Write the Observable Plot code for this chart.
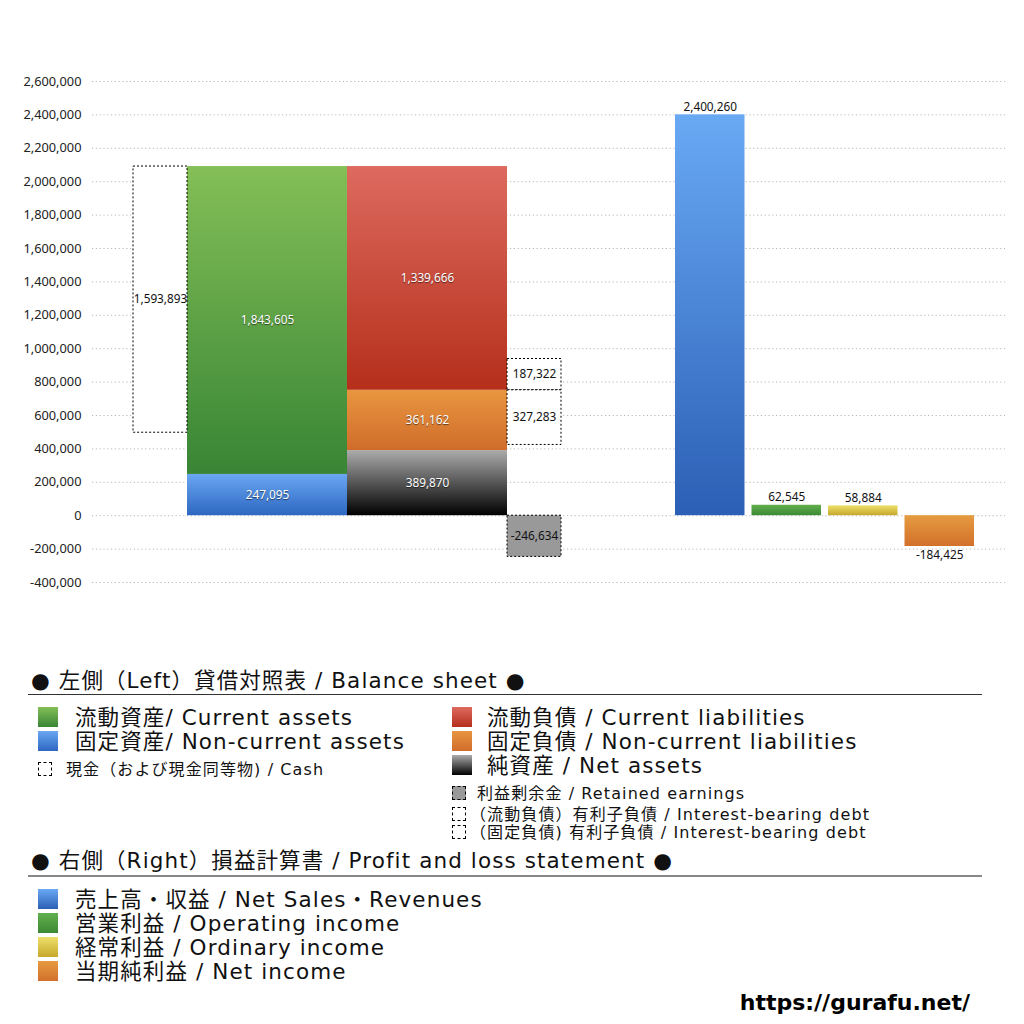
<!DOCTYPE html>
<html><head><meta charset="utf-8">
<script src="https://cdn.jsdelivr.net/npm/d3@7"></script>
<script src="https://cdn.jsdelivr.net/npm/@observablehq/plot@0.6"></script>
<style>
body{margin:0;background:#fff;font-family:"DejaVu Sans","Noto Sans CJK JP",sans-serif;}
#wrap{position:relative;width:1024px;height:1024px;overflow:hidden;background:#fff;}
#chart{position:absolute;left:0;top:0;}
.lg{position:absolute;white-space:nowrap;color:#111;line-height:1;font-family:"DejaVu Sans","Noto Sans CJK JP",sans-serif;}
.big{font-size:21.5px;letter-spacing:1.1px;}
.small{font-size:16px;letter-spacing:1.1px;}
.sw{position:absolute;}
.rule{position:absolute;left:28px;width:954px;}
g[fill="white"] text{ text-shadow:0 1px 1px rgba(0,0,0,0.55); }
</style>
</head><body>
<div id="wrap"><div id="chart"></div></div>
<script>
// ---- data ----
const assetNames = ["固定資産 / Non-current assets", "流動資産 / Current assets"];   // stacked bottom -> top
const assetValues = [247095, 1843605];
const liabNames = ["純資産 / Net assets", "固定負債 / Non-current liabilities", "流動負債 / Current liabilities"];
const liabValues = [389870, 361162, 1339666];
const cashValue = 1593893;
const debtNames = ["（流動負債）有利子負債", "（固定負債）有利子負債"];
const debtValues = [187322, 327283];
const retainedEarnings = -246634;
const plNames = ["売上高・収益 / Net Sales・Revenues", "営業利益 / Operating income", "経常利益 / Ordinary income", "当期純利益 / Net income"];
const plValues = [2400260, 62545, 58884, -184425];
const yTicks = [-400000, -200000, 0, 200000, 400000, 600000, 800000, 1000000, 1200000, 1400000, 1600000, 1800000, 2000000, 2200000, 2400000, 2600000];

// ---- styles / layout (not data) ----
const assetGrad = [["gNonCur", "#6aa7f1", "#2d67c2"], ["gCurA", "#84bf57", "#388535"]];
const liabGrad = [["gNet", "#acacac", "#000000"], ["gNonCurL", "#e8963f", "#d06c2b"], ["gCurL", "#dd6a5f", "#b52f1b"]];
const plGrad = [["gSales", "#69a9f4", "#2b5fb5"], ["gOp", "#62b04c", "#3c8935"], ["gOrd", "#eee06a", "#c6a82c"], ["gNI", "#e69b40", "#d2702b"]];
const layout = {lead: 41, side: 54, main: 160, gap: 114, pl: 69.5, plGap: 7, tail: 31};

// x positions in layout units
let cx = layout.lead;
const xCash = [cx, cx += layout.side];
const xAssets = [cx, cx += layout.main];
const xLiab = [cx, cx += layout.main];
const xDebt = [cx, cx += layout.side];
cx += layout.gap;
const xPl = plValues.map((v, i) => { const a = cx; cx += layout.pl; const r = [a, cx]; if (i < plValues.length - 1) cx += layout.plGap; return r; });
const xEnd = cx + layout.tail;

const fmt0 = d3.format(",");
const fmt = (v) => fmt0(v).replace("\u2212", "-");
const solid = [], dashed = [], whiteLabels = [], blackLabels = [];
let acc = 0;
assetValues.forEach((v, i) => {
  solid.push({x1: xAssets[0], x2: xAssets[1], y1: acc, y2: acc + v, fill: `url(#${assetGrad[i][0]})`});
  whiteLabels.push({x: (xAssets[0] + xAssets[1]) / 2, y: acc + v / 2, t: fmt(v)});
  acc += v;
});
const totalAssets = acc;
acc = 0;
const liabTops = [];
liabValues.forEach((v, i) => {
  solid.push({x1: xLiab[0], x2: xLiab[1], y1: acc, y2: acc + v, fill: `url(#${liabGrad[i][0]})`});
  whiteLabels.push({x: (xLiab[0] + xLiab[1]) / 2, y: acc + v / 2, t: fmt(v)});
  acc += v;
  liabTops.push(acc);
});
// cash box hangs from the top of total assets
dashed.push({x1: xCash[0], x2: xCash[1], y1: totalAssets - cashValue, y2: totalAssets, fill: "white"});
blackLabels.push({x: (xCash[0] + xCash[1]) / 2, y: totalAssets - cashValue / 2, t: fmt(cashValue)});
// interest-bearing debts around the boundary of current / non-current liabilities
const boundary = liabTops[1];
dashed.push({x1: xDebt[0], x2: xDebt[1], y1: boundary, y2: boundary + debtValues[0], fill: "white"});
blackLabels.push({x: (xDebt[0] + xDebt[1]) / 2, y: boundary + debtValues[0] / 2, t: fmt(debtValues[0])});
dashed.push({x1: xDebt[0], x2: xDebt[1], y1: boundary - debtValues[1], y2: boundary, fill: "white"});
blackLabels.push({x: (xDebt[0] + xDebt[1]) / 2, y: boundary - debtValues[1] / 2, t: fmt(debtValues[1])});
// retained earnings
dashed.push({x1: xDebt[0], x2: xDebt[1], y1: retainedEarnings, y2: 0, fill: "#999999"});
blackLabels.push({x: (xDebt[0] + xDebt[1]) / 2, y: retainedEarnings / 2, t: fmt(retainedEarnings)});
// P&L
const plLabels = [];
plValues.forEach((v, i) => {
  solid.push({x1: xPl[i][0], x2: xPl[i][1], y1: 0, y2: v, fill: `url(#${plGrad[i][0]})`});
  plLabels.push({x: (xPl[i][0] + xPl[i][1]) / 2, y: v, t: fmt(v), pos: v >= 0});
});

function defsMark() {
  const defs = d3.create("svg:defs");
  for (const [id, top, bottom] of [...assetGrad, ...liabGrad, ...plGrad]) {
    const g = defs.append("linearGradient").attr("id", id).attr("x1", 0).attr("y1", 0).attr("x2", 0).attr("y2", 1);
    g.append("stop").attr("offset", "0%").attr("stop-color", top);
    g.append("stop").attr("offset", "100%").attr("stop-color", bottom);
  }
  return defs.node();
}

const chart = Plot.plot({
  width: 1024, height: 620,
  marginLeft: 92, marginRight: 19, marginTop: 81, marginBottom: 38,
  x: {domain: [0, xEnd], axis: null},
  y: {domain: [-400000, 2600000], ticks: yTicks, tickFormat: fmt, tickSize: 0, tickPadding: 11, label: null},
  color: {type: "identity"},
  style: {fontFamily: "'Noto Sans', sans-serif", fontSize: "12.8px", color: "#222", background: "white"},
  marks: [
    defsMark,
    Plot.ruleY(yTicks, {stroke: "#b8b8b8", strokeDasharray: "1.2,2.6"}),
    Plot.rect(solid, {x1: "x1", x2: "x2", y1: "y1", y2: "y2", fill: "fill"}),
    Plot.rect(dashed, {x1: "x1", x2: "x2", y1: "y1", y2: "y2", fill: "fill", stroke: "#000", strokeWidth: 1, strokeDasharray: "2,2"}),
    Plot.text(whiteLabels, {x: "x", y: "y", text: "t", fill: "white", fontSize: 11.8}),
    Plot.text(blackLabels, {x: "x", y: "y", text: "t", fill: "#111", fontSize: 11.8}),
    Plot.text(plLabels.filter(d => d.pos), {x: "x", y: "y", text: "t", fill: "#111", fontSize: 11.8, dy: -8}),
    Plot.text(plLabels.filter(d => !d.pos), {x: "x", y: "y", text: "t", fill: "#111", fontSize: 11.8, dy: 9})
  ]
});
document.getElementById("chart").appendChild(chart);

// ---- legend (HTML) ----
const wrap = document.getElementById("wrap");
function txt(s, left, cy, cls, extra = "") {
  const d = document.createElement("div");
  d.className = "lg " + cls;
  d.textContent = s;
  const fs = cls === "big" ? 21.5 : 16;
  d.style.cssText = `left:${left}px;top:${cy - fs / 2 + 1}px;${extra}`;
  wrap.appendChild(d);
}
function sw(left, top, w, h, bg, border) {
  const d = document.createElement("div");
  d.className = "sw";
  d.style.cssText = `left:${left}px;top:${top}px;width:${w}px;height:${h}px;background:${bg};${border ? "border:1px dashed #000;box-sizing:border-box;" : ""}`;
  wrap.appendChild(d);
}
function rule(top, h, c) {
  const d = document.createElement("div");
  d.className = "rule";
  d.style.cssText = `top:${top}px;height:${h}px;background:${c};`;
  wrap.appendChild(d);
}
const lg = (a) => `linear-gradient(${a[1]}, ${a[2]})`;

txt("● 左側（Left）貸借対照表 / Balance sheet ●", 31, 680, "big");
rule(694, 1, "#333");
sw(38, 707, 20, 20, lg(assetGrad[1])); txt("流動資産/ Current assets", 75, 717, "big");
sw(38, 731, 20, 20, lg(assetGrad[0])); txt("固定資産/ Non-current assets", 75, 741, "big");
sw(38, 762, 14, 14, "#fff", true); txt("現金（および現金同等物) / Cash", 66, 769, "small");
sw(452, 707, 20, 20, lg(liabGrad[2])); txt("流動負債 /  Current liabilities", 487, 717, "big");
sw(452, 731, 20, 20, lg(liabGrad[1])); txt("固定負債 / Non-current liabilities", 487, 741, "big");
sw(452, 755, 20, 20, lg(liabGrad[0])); txt("純資産 / Net assets", 487, 765, "big");
sw(452, 786, 14, 14, "#999", true); txt("利益剰余金 / Retained earnings", 477, 793, "small");
sw(452, 807, 14, 14, "#fff", true); txt("（流動負債）有利子負債 / Interest-bearing debt", 470, 814, "small");
sw(452, 825, 14, 14, "#fff", true); txt("（固定負債) 有利子負債 / Interest-bearing debt", 470, 832, "small");

txt("● 右側（Right）損益計算書 / Profit and loss statement ●", 31, 860, "big");
rule(875, 2, "#888");
plGrad.forEach((g, i) => {
  sw(38, 889 + 24 * i, 20, 20, lg(g));
  txt(plNames[i], 75, 899 + 24 * i, "big");
});
const url = document.createElement("div");
url.className = "lg";
url.textContent = "https://gurafu.net/";
url.style.cssText = "right:54px;top:992px;font-size:22px;font-weight:bold;font-family:'DejaVu Sans',sans-serif;color:#000;";
wrap.appendChild(url);
</script>
</body></html>
